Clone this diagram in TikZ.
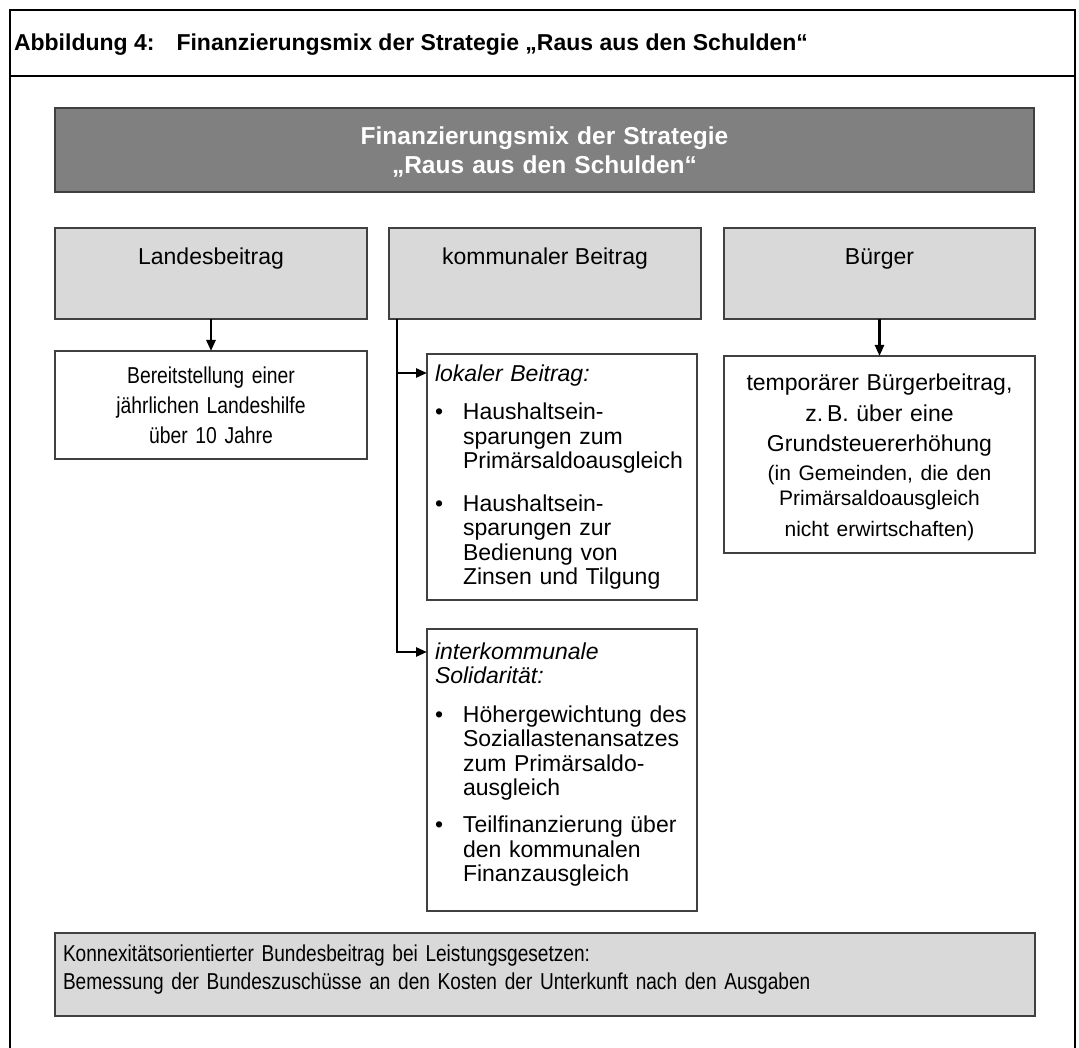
\documentclass[tikz,border=0pt]{standalone}
\usepackage{fontspec}
\setmainfont{Liberation Sans}
\newfontfamily\narrowfont[FakeStretch=0.83]{Liberation Sans}
\newfontfamily\condfont[FakeStretch=0.84]{Liberation Sans}
\usetikzlibrary{arrows.meta}
\definecolor{lightbox}{HTML}{D9D9D9}
\definecolor{darkbox}{HTML}{808080}
\definecolor{boxedge}{HTML}{404040}
\newcommand\bulitem{\hangindent=28pt\hangafter=1\noindent\makebox[28pt][l]{\textbullet}}
\begin{document}
\begin{tikzpicture}[x=1pt,y=-1pt,
  every node/.style={inner sep=0pt,outer sep=0pt},
  gbox/.style={draw=boxedge,line width=1.1pt,fill=lightbox,anchor=north west},
  wbox/.style={draw=boxedge,line width=1.1pt,fill=white,anchor=north west},
  body/.style={font=\fontsize{23}{30.5}\selectfont},
  listtxt/.style={anchor=base west,text width=262pt,font=\fontsize{23}{24.5}\selectfont},
  conn/.style={line width=2.5pt,-{Triangle[length=11pt,width=9pt]}}
]
\useasboundingbox (0,0) rectangle (1079,1048);
\fill[white] (0,0) rectangle (1079,1048);
% outer frame
\draw[line width=2pt] (10,1060) -- (10,10) -- (1075,10) -- (1075,1060);
\draw[line width=2pt] (10,76) -- (1075,76);
\node[anchor=base west,font=\bfseries\fontsize{23}{28}\selectfont] (title) at (14,51)
  {Abbildung 4:\hspace{22pt}Finanzierungsmix der Strategie „Raus aus den Schulden“};

% header box
\node[draw=boxedge,line width=1.1pt,fill=darkbox,anchor=north west,minimum width=979pt,minimum height=84pt] (head) at (55,108) {};
\node[anchor=base,text width=900pt,align=center,text=white,font=\bfseries\fontsize{24.5}{29.5}\selectfont] (headt) at (544.5,144.5)
  {Finanzierungsmix der Strategie\\„Raus aus den Schulden“};

% top boxes
\node[gbox,minimum width=312pt,minimum height=91pt] (land) at (55,228) {};
\node[gbox,minimum width=312pt,minimum height=91pt] (komm) at (389,228) {};
\node[gbox,minimum width=311pt,minimum height=91pt] (buerger) at (724,228) {};
\node[body,anchor=base] (landt) at (211,265) {Landesbeitrag};
\node[body,anchor=base] (kommt) at (545,265) {kommunaler Beitrag};
\node[body,anchor=base] (buergert) at (879.5,265) {Bürger};

% Landesbeitrag detail
\node[wbox,minimum width=312pt,minimum height=108pt] (bereit) at (55,351) {};
\node[anchor=base,text width=300pt,align=center,font=\condfont\fontsize{23}{30}\selectfont] (bereitt) at (211,384)
  {Bereitstellung einer\\jährlichen Landeshilfe\\über 10 Jahre};

% lokaler Beitrag
\node[wbox,minimum width=270pt,minimum height=246pt] (lokal) at (427,354) {};
\node[listtxt] (lokalt) at (435,382) {\setlength\parindent{0pt}%
  \textit{lokaler Beitrag:}\par\vspace{13.5pt}
  \bulitem Haushaltsein-\newline sparungen zum\newline Primärsaldoausgleich\par\vspace{18pt}
  \bulitem Haushaltsein-\newline sparungen zur\newline Bedienung von\newline Zinsen und Tilgung\par};

% interkommunale Solidaritaet
\node[wbox,minimum width=270pt,minimum height=282pt] (inter) at (427,629) {};
\node[listtxt] (intert) at (435,659) {\setlength\parindent{0pt}%
  \textit{interkommunale\newline Solidarität:}\par\vspace{14pt}
  \bulitem Höhergewichtung des\newline Soziallastenansatzes\newline zum Primärsaldo-\newline ausgleich\par\vspace{12.5pt}
  \bulitem Teilfinanzierung über\newline den kommunalen\newline Finanzausgleich\par};

% Buerger detail
\node[wbox,minimum width=311pt,minimum height=197pt] (temp) at (724,356) {};
\node[body,anchor=base,text width=300pt,align=center] (tempt) at (879.5,391)
  {temporärer Bürgerbeitrag,\\z.\,B. über eine\\Grundsteuererhöhung\\[3pt]\fontsize{21}{25.5}\selectfont (in Gemeinden, die den\\Primärsaldoausgleich\\nicht erwirtschaften)};

% bottom box
\node[gbox,minimum width=980pt,minimum height=83pt] (bund) at (55,933) {};
\node[anchor=base west,text width=965pt,font=\narrowfont\fontsize{23}{28.5}\selectfont] (bundt) at (63,961)
  {Konnexitätsorientierter Bundesbeitrag bei Leistungsgesetzen:\\Bemessung der Bundeszuschüsse an den Kosten der Unterkunft nach den Ausgaben};

% connectors
\draw[conn] (land.south) -- (bereit.north);
\draw[conn] (buerger.south) -- (temp.north);
\draw[conn] ([xshift=8pt]komm.south west) |- ([yshift=-23pt]inter.north west);
\draw[conn] ([xshift=8pt]komm.south west) |- ([yshift=-19pt]lokal.north west);
\end{tikzpicture}
\end{document}
